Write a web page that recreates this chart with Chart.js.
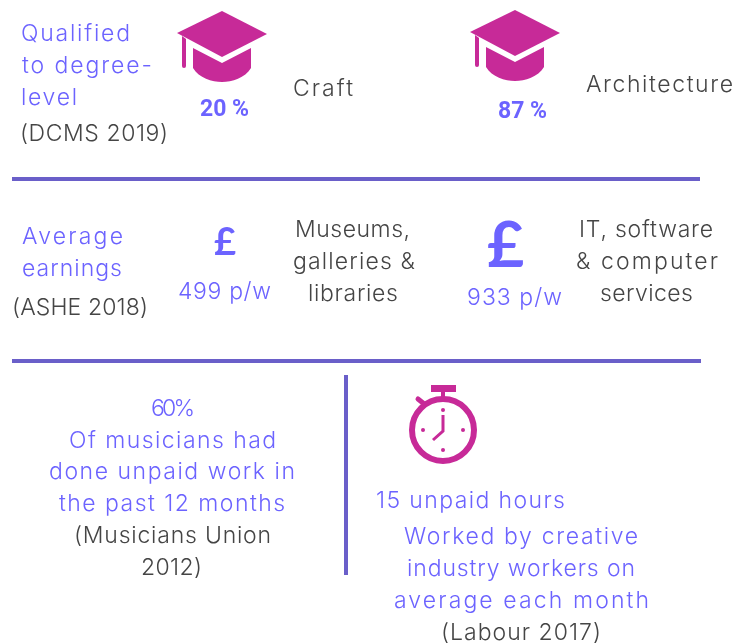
<!DOCTYPE html>
<html>
<head>
<meta charset="utf-8">
<title>Creative industries infographic</title>
<script src="https://cdn.jsdelivr.net/npm/chart.js@4"></script>
<style>
html, body { margin: 0; padding: 0; background: #fff; }
canvas { display: block; }
</style>
</head>
<body>
<canvas id="infographic" width="747" height="644"></canvas>
<script>
// values
var degreeSectors = ['Craft', 'Architecture'];
var degreeShare = [20, 87];
var weeklyEarnings = [499, 933];
var unpaidMusicians = [60];
var unpaidHours = [15];

var purple = '#6c63ff';
var grey = '#454545';
var magenta = '#c72a98';
var ruleColor = '#6a5fc9';
var thin = '300 23px Inter';
var bold = '700 23px Roboto';

// text, left, baseline, width in the picture, colour, font
var textLines = [
    ['Qualified', 21, 41, 109, purple, thin],
    ['to degree-', 22, 73, 130, purple, thin],
    ['level', 21, 105, 56, purple, thin],
    ['(DCMS 2019)', 20, 141, 148, grey, thin],
    [degreeShare[0] + ' %', 200, 116, 49, purple, bold],
    [degreeSectors[0], 293, 96, 60, grey, thin],
    [degreeShare[1] + ' %', 498, 118, 49, purple, bold],
    [degreeSectors[1], 586, 92, 147, grey, thin],

    ['Average', 22, 244, 101, purple, thin],
    ['earnings', 22, 276, 100, purple, thin],
    ['(ASHE 2018)', 12, 315, 136, grey, thin],
    ['£', 214, 255, 21, purple, '700 38px Lato'],
    [weeklyEarnings[0] + ' p/w', 178, 299, 93, purple, thin],
    ['Museums,', 295, 237, 115, grey, thin],
    ['galleries &', 293, 269, 122, grey, thin],
    ['libraries', 308, 301, 90, grey, thin],
    ['£', 487, 267, 35, purple, '700 64px Lato'],
    [weeklyEarnings[1] + ' p/w', 467, 305, 95, purple, thin],
    ['IT, software', 579, 237, 134, grey, thin],
    ['& computer', 576, 269, 142, grey, thin],
    ['services', 600, 301, 93, grey, thin],

    [unpaidMusicians[0] + '%', 151, 416, 44, purple, thin],
    ['Of musicians had', 69, 448, 207, purple, thin],
    ['done unpaid work in', 49, 479, 246, purple, thin],
    ['the past 12 months', 59, 511, 226, purple, thin],
    ['(Musicians Union', 74, 543, 197, grey, thin],
    ['2012)', 141, 575, 61, grey, thin],

    [unpaidHours[0] + ' unpaid hours', 376, 508, 189, purple, thin],
    ['Worked by creative', 404, 544, 234, purple, thin],
    ['industry workers on', 407, 576, 228, purple, thin],
    ['average each month', 394, 608, 255, purple, thin],
    ['(Labour 2017)', 441, 640, 160, grey, thin]
];

function makeHat() {
    var c = document.createElement('canvas');
    c.width = 91;
    c.height = 72;
    var g = c.getContext('2d');
    g.fillStyle = magenta;
    g.beginPath();
    g.moveTo(45, 0);
    g.lineTo(90, 23);
    g.lineTo(45, 46);
    g.lineTo(0, 22);
    g.closePath();
    g.fill();
    g.beginPath();
    g.moveTo(16, 37);
    g.lineTo(45, 52);
    g.lineTo(74, 37);
    g.lineTo(74, 57);
    g.bezierCurveTo(68, 67, 55, 71, 45, 71);
    g.bezierCurveTo(35, 71, 22, 67, 16, 57);
    g.closePath();
    g.fill();
    g.beginPath();
    g.moveTo(5, 25);
    g.lineTo(9, 28);
    g.lineTo(9, 55);
    g.arc(7, 55, 2, 0, Math.PI);
    g.closePath();
    g.fill();
    return c;
}

function makeClock() {
    var c = document.createElement('canvas');
    c.width = 72;
    c.height = 84;
    var g = c.getContext('2d');
    var cx = 36, cy = 47;
    g.strokeStyle = magenta;
    g.fillStyle = magenta;
    g.lineWidth = 6;
    g.beginPath();
    g.arc(cx, cy, 31, 0, Math.PI * 2);
    g.stroke();
    g.fillRect(24, 2, 25, 7);
    g.fillRect(cx - 2, 8, 4, 9);
    g.lineWidth = 5;
    g.lineCap = 'round';
    g.beginPath();
    g.moveTo(11, 16);
    g.lineTo(16, 20);
    g.stroke();
    g.lineWidth = 3;
    g.lineCap = 'butt';
    g.beginPath();
    g.moveTo(cx, 32);
    g.lineTo(cx, 48);
    g.lineTo(cx - 10, 57);
    g.stroke();
    [[cx, 27], [cx + 20, cy], [cx, 67], [cx - 20, cy]].forEach(function(p) {
        g.beginPath();
        g.arc(p[0], p[1], 2, 0, Math.PI * 2);
        g.fill();
    });
    return c;
}

function rule(points) {
    return {
        type: 'line',
        data: points,
        borderColor: ruleColor,
        borderWidth: 4,
        pointRadius: 0,
        fill: false
    };
}

// draws every line of text at its own place, spaced out to the width in the picture
var textPlugin = {
    id: 'textLines',
    afterDatasetsDraw: function(chart) {
        var ctx = chart.ctx;
        ctx.save();
        ctx.textAlign = 'left';
        ctx.textBaseline = 'alphabetic';
        textLines.forEach(function(line) {
            ctx.font = line[5];
            ctx.fillStyle = line[4];
            ctx.letterSpacing = '0px';
            var gap = (line[3] - ctx.measureText(line[0]).width) / Math.max(line[0].length - 1, 1);
            ctx.letterSpacing = gap.toFixed(2) + 'px';
            ctx.fillText(line[0], chart.scales.x.getPixelForValue(line[1]), chart.scales.y.getPixelForValue(line[2]));
        });
        ctx.restore();
    }
};

function draw() {
    var hat = makeHat();
    new Chart(document.getElementById('infographic').getContext('2d'), {
        type: 'scatter',
        data: {
            datasets: [
                rule([{ x: 12, y: 179 }, { x: 700, y: 179 }]),
                rule([{ x: 12, y: 361 }, { x: 701, y: 361 }]),
                rule([{ x: 346, y: 375 }, { x: 346, y: 575 }]),
                {
                    data: [{ x: 222.5, y: 47 }, { x: 515.5, y: 46 }],
                    pointStyle: hat,
                    pointRadius: 40
                },
                {
                    data: [{ x: 443, y: 425 }],
                    pointStyle: makeClock(),
                    pointRadius: 40
                }
            ]
        },
        options: {
            responsive: false,
            animation: false,
            layout: { padding: 0, autoPadding: false },
            plugins: { legend: { display: false }, tooltip: { enabled: false } },
            scales: {
                x: { type: 'linear', min: 0, max: 747, display: false },
                y: { type: 'linear', min: 0, max: 644, reverse: true, display: false }
            }
        },
        plugins: [textPlugin]
    });
}

draw();
</script>
</body>
</html>
